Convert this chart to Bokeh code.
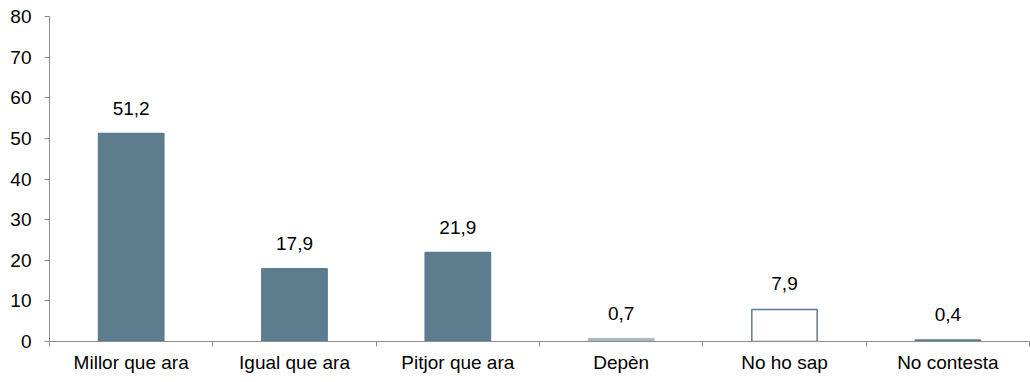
from bokeh.plotting import figure
from bokeh.models import ColumnDataSource, Range1d, FixedTicker, LinearAxis, LabelSet
from bokeh.core.properties import value
from bokeh.embed import file_html
from bokeh.resources import INLINE

categories = ["Millor que ara", "Igual que ara", "Pitjor que ara", "Depèn", "No ho sap", "No contesta"]
values = [51.2, 17.9, 21.9, 0.7, 7.9, 0.4]
y_ticks = [0, 10, 20, 30, 40, 50, 60, 70, 80]

fills = ["#5d7c8e", "#5d7c8e", "#5d7c8e", "#a9bac5", "#ffffff", "#5d7c8e"]
lines = ["#5d7c8e", "#5d7c8e", "#5d7c8e", "#a9bac5", "#5d7c8e", "#5d7c8e"]

xs = [i + 0.5 for i in range(len(categories))]
labels = [("%.1f" % v).replace(".", ",") for v in values]

src = ColumnDataSource(dict(x=xs, top=values, fill=fills, line=lines, label=labels))

FONT = "Liberation Sans"

p = figure(width=1030, height=382, output_backend="svg", toolbar_location=None,
           x_range=Range1d(0, 6), y_range=Range1d(0, 80),
           min_border_left=49, min_border_right=1, min_border_top=16, min_border_bottom=41,
           x_axis_location=None)
p.outline_line_color = None
p.xgrid.grid_line_color = None
p.ygrid.grid_line_color = None
p.background_fill_color = "white"

p.vbar(x="x", top="top", width=0.4, bottom=0, source=src,
       fill_color="fill", line_color="line", line_width=1.5)

lab = LabelSet(x="x", y="top", text="label", source=src, text_align="center",
               text_baseline="alphabetic", y_offset=19, text_font=value(FONT),
               text_font_size="19px", text_color="#000000")
p.add_layout(lab)

axis_col = "#8c8c8c"
ya = p.yaxis[0]
ya.ticker = FixedTicker(ticks=y_ticks)
ya.axis_line_color = axis_col
ya.major_tick_line_color = axis_col
ya.major_tick_in = 0
ya.major_tick_out = 5
ya.minor_tick_line_color = None
ya.major_label_text_font = FONT
ya.major_label_text_font_size = "19px"
ya.major_label_text_color = "#000000"
ya.major_label_standoff = 13

# axis with ticks at category boundaries
xb = LinearAxis(ticker=FixedTicker(ticks=list(range(len(categories) + 1))))
xb.axis_line_color = axis_col
xb.major_tick_line_color = axis_col
xb.major_tick_in = 0
xb.major_tick_out = 5
xb.minor_tick_line_color = None
xb.major_label_text_font_size = "0px"
xb.major_label_standoff = 0
xb.major_label_text_color = None
p.add_layout(xb, "below")

# category label axis
xl = LinearAxis(ticker=FixedTicker(ticks=xs),
                major_label_overrides={x: c for x, c in zip(xs, categories)})
xl.axis_line_color = None
xl.major_tick_line_color = None
xl.major_tick_out = 0
xl.minor_tick_line_color = None
xl.major_label_text_font = FONT
xl.major_label_text_font_size = "19px"
xl.major_label_text_color = "#000000"
xl.major_label_standoff = 5
p.add_layout(xl, "below")

open("out.html", "w").write(file_html(p, INLINE))
